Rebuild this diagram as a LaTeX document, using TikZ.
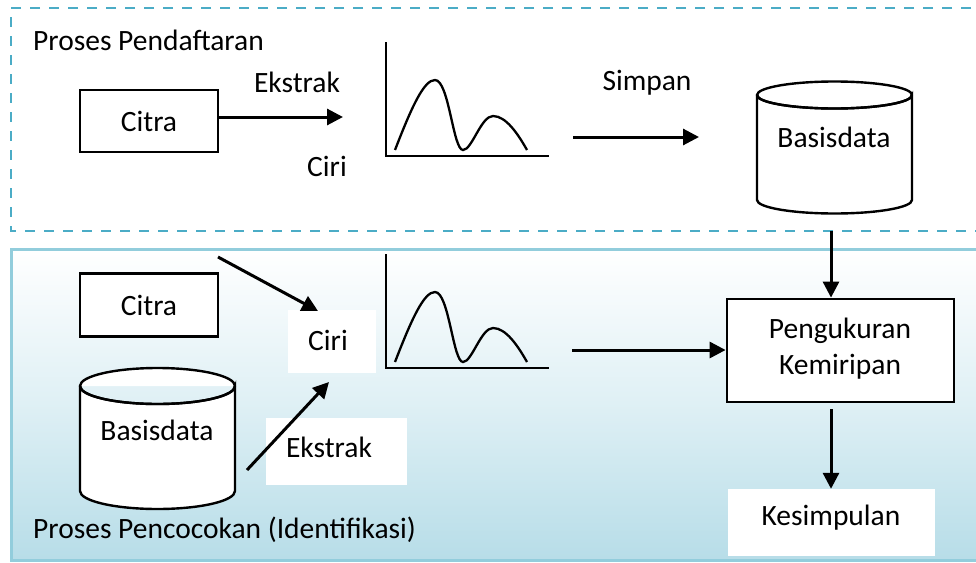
\documentclass[tikz,border=0pt]{standalone}
\usepackage{fontspec}
\setmainfont{Carlito}
\usetikzlibrary{arrows.meta,shapes.geometric}
\definecolor{dashteal}{RGB}{75,172,198}
\definecolor{bordteal}{RGB}{146,205,220}
\definecolor{bgblue}{RGB}{183,221,232}
\tikzset{
  lbl/.style={font=\fontsize{29.5}{36}\selectfont, inner sep=0pt},
  boxed/.style={draw=black, line width=2.8pt, fill=white},
  whitebox/.style={fill=white, inner sep=0pt},
  arr/.style={line width=3pt, -{Triangle[length=16pt,width=16pt]}},
  axis/.style={line width=2.8pt},
  wave/.style={line width=2.3pt},
  cyl/.style={draw=black, line width=2.4pt, fill=white}
}
\begin{document}
\begin{tikzpicture}[x=1pt,y=-1pt]
\useasboundingbox (0,0) rectangle (976,562);
\begin{scope}
\clip (0,0) rectangle (976,562);
% bottom panel
\shade[top color=white, bottom color=bgblue, middle color=white!55!bgblue] (11,249) rectangle (990,560);
\draw[bordteal, line width=3pt] (990,249) -- (11,249) -- (11,560) -- (990,560);
% top dashed panel
\draw[dashteal, line width=2.8pt, dash pattern=on 10pt off 9pt] (990,8) -- (11,8) -- (11,231) -- (990,231);
\end{scope}

% ---------- top: registration ----------
\node[lbl, anchor=west] (t1) at (33,40) {Proses Pendaftaran};
\node[boxed, minimum width=138pt, minimum height=62pt, inner sep=0pt] (citraA) at (149,121) {};
\node[lbl] (citraAt) at (149,121) {Citra};
\coordinate (exA) at (343,117);
\draw[arr] (citraA.east |- exA) -- (exA);
\node[lbl] (ekA) at (297,82) {Ekstrak};
\node[lbl] (ciriA) at (327,166) {Ciri};
% chart 1
\coordinate (axA) at (386,156);
\draw[axis] (386,42) -- (axA) -- (549,156);
\draw[wave] (395,150) .. controls (412,106) and (424,80) .. (435,80)
  .. controls (449,80) and (453,150) .. (463,150)
  .. controls (472,150) and (481,116) .. (493,116)
  .. controls (506,116) and (518,134) .. (527,150);
\coordinate (smA) at (573,137);
\coordinate (smB) at (699,137);
\draw[arr] (smA) -- (smB);
\node[lbl] (simpan) at (647,83) {Simpan};
% cylinder 1
\filldraw[cyl] (757,95) -- (757,200) arc[start angle=180, end angle=0, x radius=77.5, y radius=13.5] -- (912,95) arc[start angle=0, end angle=360, x radius=77.5, y radius=13.5];
\draw[line width=2.4pt] (757,95) arc[start angle=180, end angle=0, x radius=77.5, y radius=13.5];
\node[lbl] (dbA) at (834,137) {Basisdata};
\coordinate (dbAbot) at (831,231);

% ---------- bottom: identification ----------
\node[boxed, minimum width=138pt, minimum height=63pt, inner sep=0pt] (citraB) at (149,305) {};
\node[lbl] (citraBt) at (149,305) {Citra};
\node[whitebox, minimum width=88pt, minimum height=63pt] (ciriB) at (332,341) {};
\node[lbl] (ciriBt) at (328,340) {Ciri};
\node[whitebox, minimum width=141pt, minimum height=67pt] (ekB) at (336,451) {};
\node[lbl] (ekBt) at (329,447) {Ekstrak};
% cylinder 2
\filldraw[cyl] (80,386) -- (80,491) arc[start angle=180, end angle=0, x radius=77.5, y radius=18] -- (235,386) arc[start angle=0, end angle=360, x radius=77.5, y radius=18];
\draw[line width=2.4pt] (80,386) arc[start angle=180, end angle=0, x radius=77.5, y radius=18];
\node[lbl] (dbB) at (157,430) {Basisdata};
% arrows into Ciri
\coordinate (aS1) at (218,257);
\coordinate (aE1) at (318,311);
\draw[arr] (aS1) -- (aE1);
\coordinate (aS2) at (247,470);
\coordinate (aE2) at (329,382);
\draw[arr] (aS2) -- (aE2);
% chart 2
\draw[axis] (386,254) -- (386,368) -- (549,368);
\draw[wave] (395,362) .. controls (412,318) and (424,292) .. (435,292)
  .. controls (449,292) and (453,362) .. (463,362)
  .. controls (472,362) and (481,328) .. (493,328)
  .. controls (506,328) and (518,346) .. (527,362);
% measurement
\node[boxed, minimum width=227pt, minimum height=103pt, inner sep=0pt] (ukur) at (840.5,350.5) {};
\node[lbl, align=center] (ukurt) at (840,349) {Pengukuran\\Kemiripan};
\coordinate (m1) at (572,350);
\draw[arr] (m1) -- (ukur.west |- m1);
\draw[arr] (dbAbot) -- (dbAbot |- ukur.north);
\node[whitebox, minimum width=207pt, minimum height=67pt] (kes) at (831.5,522.5) {};
\node[lbl] (kest) at (831,518) {Kesimpulan};
\coordinate (k1) at (831,409);
\draw[arr] (k1) -- (k1 |- kes.north);
\node[lbl, anchor=west] (t2) at (33,530) {Proses Pencocokan (Identifikasi)};
\end{tikzpicture}
\end{document}
